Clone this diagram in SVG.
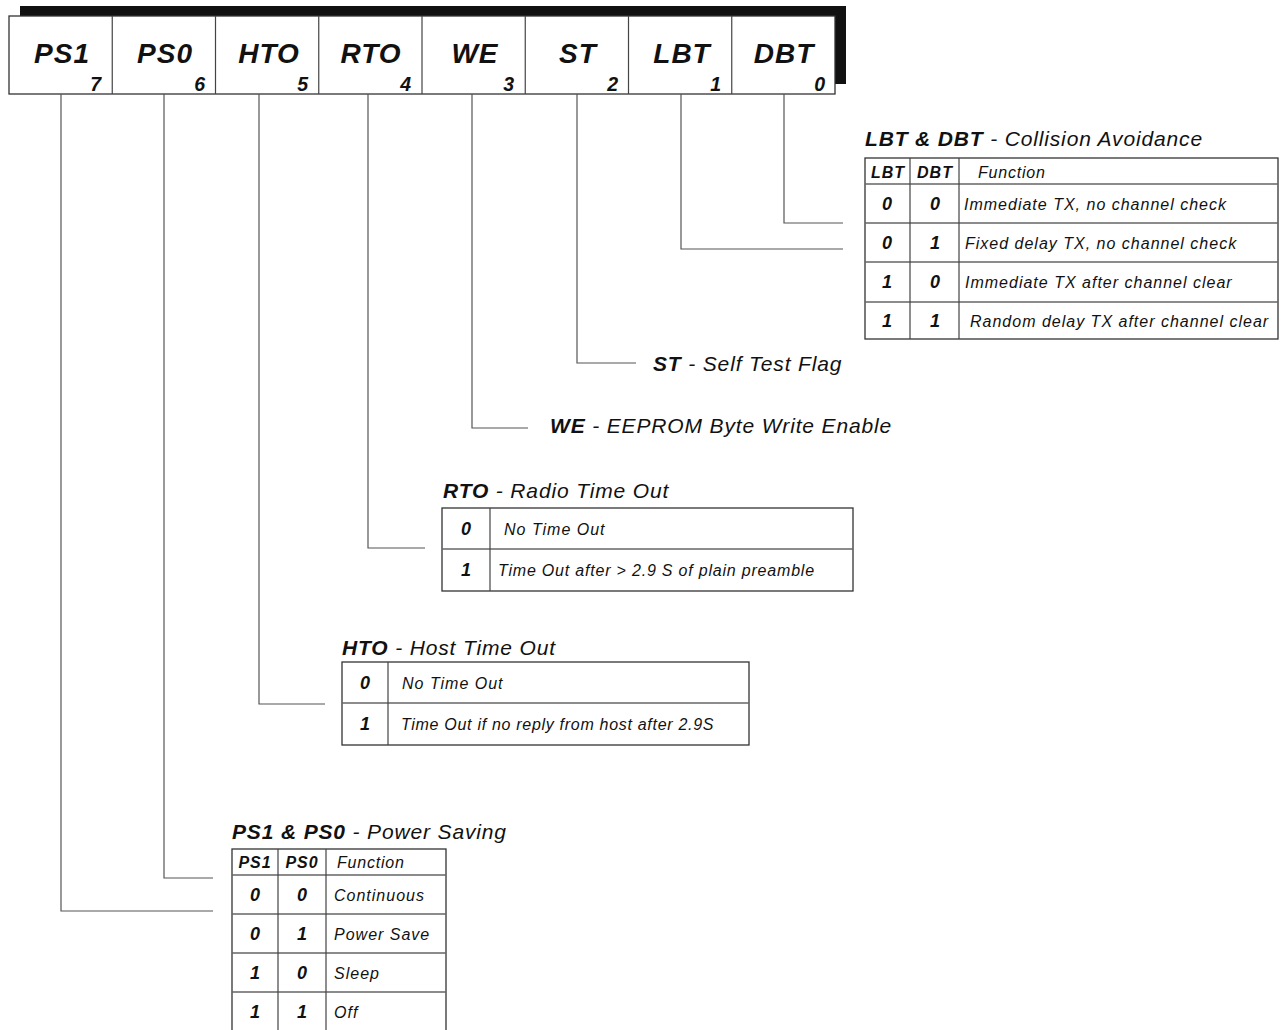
<svg xmlns="http://www.w3.org/2000/svg" width="1281" height="1030" viewBox="0 0 1281 1030">
<style>
text{font-family:"Liberation Sans",Arial,sans-serif;font-style:italic;fill:#111}
.reg{font-size:28px;font-weight:bold;letter-spacing:1px;text-anchor:middle}
.bit{font-size:19.5px;font-weight:bold;text-anchor:end}
.ttl{font-size:21px;letter-spacing:0.85px}
.b{font-weight:bold}
.hdr{font-size:16px;font-weight:bold;letter-spacing:1px;text-anchor:middle}
.fn{font-size:16px;letter-spacing:0.8px}
.dig{font-size:18px;font-weight:bold;text-anchor:middle}
.txt{font-size:16px;letter-spacing:1px}
.box{fill:#fff;stroke:#333;stroke-width:1.3}
.div{stroke:#444;stroke-width:1.2;fill:none}
.row{stroke:#666;stroke-width:1.5;fill:none}
.con{stroke:#555;stroke-width:1.2;fill:none}
</style>
<rect width="1281" height="1030" fill="#fff"/>
<g id="register">
<polygon points="20,6 846,6 846,84 835,84 835,16 20,16" fill="#111"/>
<rect class="box" x="9" y="16" width="826" height="78"/>
<path class="div" d="M112.25 16V94M215.5 16V94M318.75 16V94M422 16V94M525.25 16V94M628.5 16V94M731.75 16V94"/>
<text class="reg" x="62" y="63">PS1</text><text class="bit" x="101" y="91">7</text>
<text class="reg" x="165" y="63">PS0</text><text class="bit" x="205" y="91">6</text>
<text class="reg" x="269" y="63">HTO</text><text class="bit" x="308" y="91">5</text>
<text class="reg" x="371" y="63">RTO</text><text class="bit" x="411" y="91">4</text>
<text class="reg" x="475" y="63">WE</text><text class="bit" x="514" y="91">3</text>
<text class="reg" x="578" y="63">ST</text><text class="bit" x="618" y="91">2</text>
<text class="reg" x="682" y="63">LBT</text><text class="bit" x="721" y="91">1</text>
<text class="reg" x="784" y="63">DBT</text><text class="bit" x="825" y="91">0</text>
</g>
<g id="connectors">
<path class="con" d="M784 94V223H843"/>
<path class="con" d="M681 94V249H843"/>
<path class="con" d="M577 94V363H636"/>
<path class="con" d="M472 94V428H528"/>
<path class="con" d="M368 94V548H425"/>
<path class="con" d="M259 94V704H325"/>
<path class="con" d="M164 94V878H213"/>
<path class="con" d="M61 94V911H213"/>
</g>
<g id="lbt-dbt">
<text class="ttl" x="865" y="146"><tspan class="b">LBT &amp; DBT</tspan> - Collision Avoidance</text>
<rect class="box" x="865" y="158" width="413" height="181"/>
<path class="row" d="M865 184H1278M865 223H1278M865 262H1278M865 302H1278"/>
<path class="div" d="M910 158V339M959 158V339"/>
<text class="hdr" x="888" y="178">LBT</text><text class="hdr" x="935" y="178">DBT</text><text class="fn" x="978" y="178">Function</text>
<text class="dig" x="887" y="210">0</text><text class="dig" x="935" y="210">0</text><text class="txt" x="964" y="210">Immediate TX, no channel check</text>
<text class="dig" x="887" y="249">0</text><text class="dig" x="935" y="249">1</text><text class="txt" x="965" y="249">Fixed delay TX, no channel check</text>
<text class="dig" x="887" y="288">1</text><text class="dig" x="935" y="288">0</text><text class="txt" x="965" y="288">Immediate TX after channel clear</text>
<text class="dig" x="887" y="327">1</text><text class="dig" x="935" y="327">1</text><text class="txt" x="970" y="327">Random delay TX after channel clear</text>
</g>
<g id="st">
<text class="ttl" x="653" y="371"><tspan class="b">ST</tspan> - Self Test Flag</text>
</g>
<g id="we">
<text class="ttl" x="550" y="433"><tspan class="b">WE</tspan> - EEPROM Byte Write Enable</text>
</g>
<g id="rto">
<text class="ttl" x="443" y="498"><tspan class="b">RTO</tspan> - Radio Time Out</text>
<rect class="box" x="442" y="508" width="411" height="83"/>
<path class="row" d="M442 549H853"/>
<path class="div" d="M490 508V591"/>
<text class="dig" x="466" y="535">0</text><text class="txt" x="504" y="535">No Time Out</text>
<text class="dig" x="466" y="576">1</text><text class="txt" x="498" y="576" style="letter-spacing:0.8px">Time Out after &gt; 2.9 S of plain preamble</text>
</g>
<g id="hto">
<text class="ttl" x="342" y="655"><tspan class="b">HTO</tspan> - Host Time Out</text>
<rect class="box" x="342" y="662" width="407" height="83"/>
<path class="row" d="M342 703H749"/>
<path class="div" d="M388 662V745"/>
<text class="dig" x="365" y="689">0</text><text class="txt" x="402" y="689">No Time Out</text>
<text class="dig" x="365" y="730">1</text><text class="txt" x="401" y="730" style="letter-spacing:0.7px">Time Out if no reply from host after 2.9S</text>
</g>
<g id="ps">
<text class="ttl" x="232" y="839"><tspan class="b">PS1 &amp; PS0</tspan> - Power Saving</text>
<rect class="box" x="232" y="849" width="214" height="190"/>
<path class="row" d="M232 875H446M232 914H446M232 953H446M232 992H446"/>
<path class="div" d="M278 849V1031M326 849V1031"/>
<text class="hdr" x="255" y="868">PS1</text><text class="hdr" x="302" y="868">PS0</text><text class="fn" x="337" y="868">Function</text>
<text class="dig" x="255" y="901">0</text><text class="dig" x="302" y="901">0</text><text class="txt" x="334" y="901">Continuous</text>
<text class="dig" x="255" y="940">0</text><text class="dig" x="302" y="940">1</text><text class="txt" x="334" y="940">Power Save</text>
<text class="dig" x="255" y="979">1</text><text class="dig" x="302" y="979">0</text><text class="txt" x="334" y="979">Sleep</text>
<text class="dig" x="255" y="1018">1</text><text class="dig" x="302" y="1018">1</text><text class="txt" x="334" y="1018">Off</text>
</g>
</svg>
